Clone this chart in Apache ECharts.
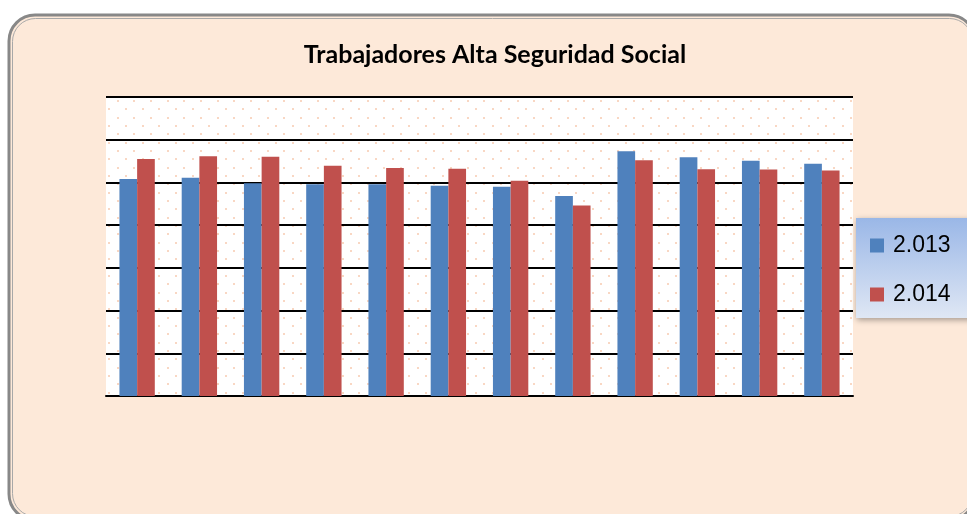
<!DOCTYPE html>
<html>
<head>
<meta charset="utf-8">
<script src="https://cdn.jsdelivr.net/npm/echarts@6/dist/echarts.min.js"></script>
<style>
html,body{margin:0;padding:0;background:#ffffff;}
#chart{width:967px;height:514px;}
</style>
</head>
<body>
<div id="chart"></div>
<script>
var categories = ['Ene', 'Feb', 'Mar', 'Abr', 'May', 'Jun', 'Jul', 'Ago', 'Sep', 'Oct', 'Nov', 'Dic'];
var seriesNames = ['2.013', '2.014'];
var values2013 = [5.08, 5.11, 4.98, 4.96, 4.96, 4.92, 4.90, 4.68, 5.73, 5.59, 5.51, 5.44];
var values2014 = [5.55, 5.61, 5.60, 5.39, 5.34, 5.32, 5.04, 4.46, 5.52, 5.31, 5.30, 5.28];
var titleText = 'Trabajadores Alta Seguridad Social';

// dotted plot-area texture
var tile = document.createElement('canvas');
tile.width = 50; tile.height = 50;
var tc = tile.getContext('2d');
tc.fillStyle = '#ffffff';
tc.fillRect(0, 0, 50, 50);
tc.fillStyle = 'rgba(248,205,180,0.8)';
for (var j = 0; j < 6; j++) {
  var yy = Math.round(j * 8.333);
  var off = (j % 2) ? 8.333 : 0;
  for (var i = 0; i < 3; i++) {
    var xx = Math.round(i * 16.667 + off);
    tc.fillRect(xx, yy, 2, 2);
  }
}

var chart = echarts.init(document.getElementById('chart'), null, {renderer: 'canvas'});
chart.setOption({
  animation: false,
  backgroundColor: '#ffffff',
  graphic: [
    {type: 'rect', z: -10, shape: {x: 9, y: 15, width: 966, height: 505, r: 26},
     style: {fill: '#fde9d9', stroke: '#888888', lineWidth: 3}},
    {type: 'rect', z: -9, shape: {x: 12.5, y: 18.5, width: 960, height: 498, r: 23},
     style: {fill: 'none', stroke: '#a8a8a8', lineWidth: 1}},
    {type: 'rect', z: 5, shape: {x: 856, y: 218, width: 120, height: 100},
     style: {
       fill: new echarts.graphic.LinearGradient(0, 0, 0, 1, [
         {offset: 0, color: '#9ab7e7'},
         {offset: 1, color: '#dfe7f4'}
       ]),
       shadowBlur: 6, shadowColor: 'rgba(0,0,0,0.35)', shadowOffsetX: 1, shadowOffsetY: 2
     }}
  ],
  title: {
    text: titleText,
    left: 490,
    top: 37,
    textAlign: 'center',
    textStyle: {fontFamily: 'Lato', fontWeight: 'bold', fontSize: 25, color: '#000000'}
  },
  legend: {
    orient: 'vertical',
    left: 865,
    top: 229,
    z: 10,
    itemWidth: 14,
    itemHeight: 14,
    itemGap: 26,
    icon: 'rect',
    data: seriesNames,
    textStyle: {fontFamily: 'Liberation Sans', fontSize: 23, color: '#000000', lineHeight: 23, padding: [0, 0, 0, 4]}
  },
  grid: {
    left: 106, right: 114, top: 97, bottom: 118,
    show: true,
    borderWidth: 0,
    backgroundColor: {image: tile, repeat: 'repeat'}
  },
  xAxis: {
    type: 'category',
    data: categories,
    axisLine: {show: true, lineStyle: {color: '#000000', width: 2}},
    axisTick: {show: false},
    axisLabel: {show: false}
  },
  yAxis: {
    type: 'value',
    min: 0, max: 7, interval: 1,
    axisLine: {show: false},
    axisTick: {show: false},
    axisLabel: {show: false},
    splitLine: {show: true, lineStyle: {color: '#000000', width: 2}}
  },
  series: [
    {name: seriesNames[0], type: 'bar', data: values2013, barWidth: '28.4%', barGap: '0%',
     itemStyle: {color: '#4f81bd'}},
    {name: seriesNames[1], type: 'bar', data: values2014, barWidth: '28.4%', barGap: '0%',
     itemStyle: {color: '#c0504d'}}
  ]
});
</script>
</body>
</html>
